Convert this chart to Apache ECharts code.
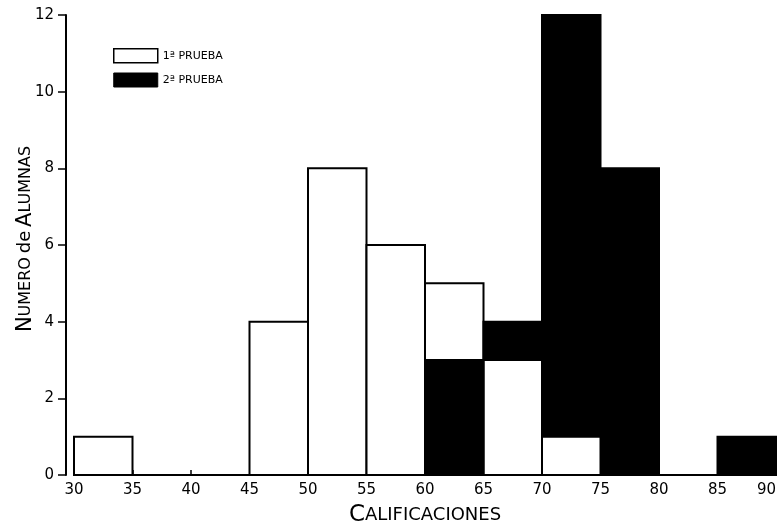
<!DOCTYPE html>
<html>
<head>
<meta charset="utf-8">
<script src="https://cdn.jsdelivr.net/npm/echarts@6/dist/echarts.min.js"></script>
<style>html,body{margin:0;padding:0;background:#fff}#c{width:784px;height:525px}</style>
</head>
<body>
<div id="c"></div>
<script>
// Bin lower edges (width 5)
const binStarts = [30, 35, 40, 45, 50, 55, 60, 65, 70, 75, 80, 85];
const binWidth = 5;
// Number of students per bin
const prueba1 = [1, 0, 0, 4, 8, 6, 5, 3, 1, 0, 0, 0];
const prueba2 = [0, 0, 0, 0, 0, 0, 3, 4, 12, 8, 0, 1];
const xTicks = [30, 35, 40, 45, 50, 55, 60, 65, 70, 75, 80, 85, 90];
const yTicks = [0, 2, 4, 6, 8, 10, 12];
const name1 = '1ª PRUEBA';
const name2 = '2ª PRUEBA';

function buildData(vals, others) {
  return binStarts.map((s, i) => [s, s + binWidth, vals[i], others[i]]);
}

function makeRender(fill) {
  return function (params, api) {
    const v = api.value(2);
    if (!v) return null;
    const other = api.value(3);
    const p0 = api.coord([api.value(0), v]);
    const p1 = api.coord([api.value(1), 0]);
    return {
      type: 'rect',
      z2: v <= other ? 20 : 10,
      shape: { x: p0[0], y: p0[1], width: p1[0] - p0[0], height: p1[1] - p0[1] },
      style: { fill: fill, stroke: '#000', lineWidth: 2 }
    };
  };
}

const chart = echarts.init(document.getElementById('c'));
const font = 'DejaVu Sans';
chart.setOption({
  animation: false,
  backgroundColor: '#fff',
  textStyle: { fontFamily: font, color: '#000' },
  grid: { left: 74, right: 8, top: 15, bottom: 50, containLabel: false, outerBoundsMode: 'none' },
  legend: {
    orient: 'vertical',
    left: 108,
    top: 43,
    itemWidth: 44,
    itemHeight: 14,
    itemGap: 9,
    selectedMode: false,
    textStyle: { fontFamily: font, fontSize: 11, color: '#000' },
    data: [
      { name: name1, icon: 'rect', itemStyle: { color: '#fff', borderColor: '#000', borderWidth: 1.5 } },
      { name: name2, icon: 'rect', itemStyle: { color: '#000', borderColor: '#000', borderWidth: 1 } }
    ]
  },
  xAxis: {
    type: 'value',
    min: xTicks[0],
    max: xTicks[xTicks.length - 1],
    interval: 5,
    name: '{b|C}{s|ALIFICACIONES}',
    nameLocation: 'middle',
    nameGap: 29,
    nameTextStyle: {
      rich: {
        b: { fontFamily: font, fontSize: 23, color: '#000' },
        s: { fontFamily: font, fontSize: 18, color: '#000' }
      }
    },
    axisLine: { lineStyle: { color: '#000', width: 2 } },
    axisTick: { show: true, inside: true, length: 5, lineStyle: { color: '#000', width: 1.5 } },
    axisLabel: { fontFamily: font, fontSize: 15, color: '#000', margin: 8, alignMaxLabel: 'right' },
    splitLine: { show: false }
  },
  yAxis: {
    type: 'value',
    min: yTicks[0],
    max: yTicks[yTicks.length - 1],
    interval: 2,
    offset: 8,
    name: '{b|N}{s|UMERO} {l|de} {b|A}{s|LUMNAS}',
    nameLocation: 'middle',
    nameGap: 30,
    nameMoveOverlap: false,
    nameRotate: 90,
    nameTextStyle: {
      padding: [0, 0, 0, 12],
      rich: {
        b: { fontFamily: font, fontSize: 21, color: '#000' },
        s: { fontFamily: font, fontSize: 16, color: '#000' },
        l: { fontFamily: font, fontSize: 18, color: '#000' }
      }
    },
    axisLine: { show: true, lineStyle: { color: '#000', width: 2 } },
    axisTick: { show: true, length: 8, lineStyle: { color: '#000', width: 1.5 } },
    axisLabel: { fontFamily: font, fontSize: 15, color: '#000', margin: 12 },
    splitLine: { show: false }
  },
  series: [
    {
      name: name1,
      type: 'custom',
      renderItem: makeRender('#fff'),
      itemStyle: { color: '#fff', borderColor: '#000' },
      encode: { x: [0, 1], y: 2 },
      data: buildData(prueba1, prueba2)
    },
    {
      name: name2,
      type: 'custom',
      renderItem: makeRender('#000'),
      itemStyle: { color: '#000' },
      encode: { x: [0, 1], y: 2 },
      data: buildData(prueba2, prueba1)
    }
  ]
});
</script>
</body>
</html>
